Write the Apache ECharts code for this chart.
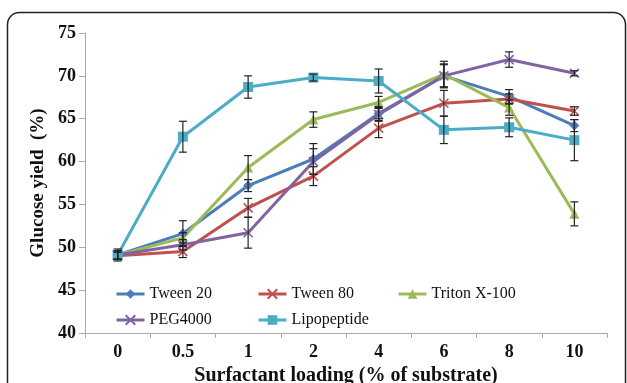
<!DOCTYPE html>
<html>
<head>
<meta charset="utf-8">
<script src="https://cdn.jsdelivr.net/npm/echarts@6/dist/echarts.min.js"></script>
<style>
  html, body { margin: 0; padding: 0; background: #fff; }
</style>
</head>
<body>
<div id="GlucoseChart" style="width: 627px;height:383px;"></div>
<script>
// surfactant loading (% of substrate)
const loadings = ['0', '0.5', '1', '2', '4', '6', '8', '10'];
const yTicks = [40, 45, 50, 55, 60, 65, 70, 75];

// glucose yield (%)
const tween20 = [49.1, 51.6, 57.2, 60.3, 65.6, 70.0, 67.6, 64.2];
const tween80 = [49.0, 49.5, 54.6, 58.3, 63.9, 66.8, 67.3, 65.9];
const triton = [49.1, 51.1, 59.3, 64.9, 66.9, 70.2, 66.3, 53.9];
const peg4000 = [49.1, 50.3, 51.7, 60.0, 65.5, 70.0, 71.9, 70.3];
const lipopeptide = [49.1, 62.9, 68.7, 69.8, 69.4, 63.7, 64.0, 62.5];

// error bars (+/-)
const tween20Err = [0.5, 1.5, 0.7, 1.8, 0.8, 1.3, 0.8, 0.7];
const tween80Err = [0.4, 0.7, 1.1, 1.1, 1.1, 1.5, 0.6, 0.5];
const tritonErr = [0.5, 0.6, 1.4, 0.9, 0.7, 1.5, 0.9, 1.4];
const pegErr = [0.5, 0.6, 1.8, 1.5, 0.8, 1.4, 0.9, 0.3];
const lipoErr = [0.7, 1.8, 1.3, 0.4, 1.4, 1.6, 1.1, 2.4];

const chart = echarts.init(document.getElementById('GlucoseChart'));

const xMark = 'path://M0,0L10,10M10,0L0,10';

function lineSeries(name, data, color, symbol, size, stroke) {
  return {
    name: name,
    type: 'line',
    data: data,
    symbol: symbol,
    symbolSize: size,
    showAllSymbol: true,
    z: 3,
    lineStyle: { color: color, width: 3 },
    itemStyle: stroke
      ? { color: 'none', borderColor: color, borderWidth: 1.6 }
      : { color: color, borderColor: color, borderWidth: 0 }
  };
}

function errSeries(values, errs) {
  const data = values.map((v, i) => [i, v, errs[i]]);
  return {
    type: 'custom',
    z: 4,
    silent: true,
    data: data,
    renderItem(params, api) {
      const i = api.value(0);
      const v = api.value(1);
      const e = api.value(2);
      const top = api.coord([i, v + e]);
      const bot = api.coord([i, v - e]);
      const w = 4;
      const style = { stroke: '#222', lineWidth: 1.2 };
      return {
        type: 'group',
        children: [
          { type: 'line', shape: { x1: top[0], y1: top[1], x2: bot[0], y2: bot[1] }, style: style },
          { type: 'line', shape: { x1: top[0] - w, y1: top[1], x2: top[0] + w, y2: top[1] }, style: style },
          { type: 'line', shape: { x1: bot[0] - w, y1: bot[1], x2: bot[0] + w, y2: bot[1] }, style: style }
        ]
      };
    }
  };
}

const legendText = { fontFamily: 'Liberation Serif', fontSize: 16, color: '#111' };
const legendBase = {
  orient: 'vertical', top: 281, itemWidth: 28, itemHeight: 12, itemGap: 10,
  lineStyle: { width: 3 }, textStyle: legendText
};

const option = {
  animation: false,
  backgroundColor: '#fff',
  graphic: [{
    type: 'rect',
    shape: { x: 7.5, y: 12.5, width: 618, height: 420, r: 12 },
    style: { fill: 'none', stroke: '#222', lineWidth: 1.5 },
    z: -1
  }],
  grid: { left: 85, right: 20, top: 33, bottom: 50, containLabel: false, outerBoundsMode: 'none' },
  legend: [
    Object.assign({ data: ['Tween 20', 'PEG4000'], left: 110 }, legendBase),
    Object.assign({ data: ['Tween 80', 'Lipopeptide'], left: 252 }, legendBase),
    Object.assign({ data: ['Triton X-100'], left: 392 }, legendBase)
  ],
  xAxis: {
    type: 'category',
    data: loadings,
    boundaryGap: true,
    name: 'Surfactant loading (% of substrate)',
    nameLocation: 'middle',
    nameGap: 33,
    nameTextStyle: { fontFamily: 'Liberation Serif', fontWeight: 'bold', fontSize: 20, color: '#111' },
    axisLine: { lineStyle: { color: '#aaa', width: 1 } },
    axisTick: { show: true, length: 5, inside: false, lineStyle: { color: '#aaa' } },
    axisLabel: { margin: 10, fontFamily: 'Liberation Serif', fontWeight: 'bold', fontSize: 18, color: '#111' },
    splitLine: { show: false }
  },
  yAxis: {
    type: 'value',
    min: yTicks[0],
    max: yTicks[yTicks.length - 1],
    interval: 5,
    name: 'Glucose yield  (%)',
    nameLocation: 'middle',
    nameRotate: 90,
    nameGap: 33,
    nameTextStyle: { fontFamily: 'Liberation Serif', fontWeight: 'bold', fontSize: 19, color: '#111' },
    axisLine: { show: true, lineStyle: { color: '#aaa', width: 1 } },
    axisTick: { show: true, length: 6, lineStyle: { color: '#aaa' } },
    axisLabel: { margin: 9, fontFamily: 'Liberation Serif', fontWeight: 'bold', fontSize: 18, color: '#111' },
    splitLine: { show: false }
  },
  series: [
    lineSeries('Tween 20', tween20, '#4A7EBB', 'diamond', 10, false),
    lineSeries('Tween 80', tween80, '#C0504D', xMark, 9, true),
    lineSeries('Triton X-100', triton, '#9BBB59', 'triangle', 10, false),
    lineSeries('PEG4000', peg4000, '#8064A2', xMark, 9, true),
    lineSeries('Lipopeptide', lipopeptide, '#4BACC6', 'rect', 10, false),
    errSeries(tween20, tween20Err),
    errSeries(tween80, tween80Err),
    errSeries(triton, tritonErr),
    errSeries(peg4000, pegErr),
    errSeries(lipopeptide, lipoErr)
  ]
};

chart.setOption(option);
</script>
</body>
</html>
